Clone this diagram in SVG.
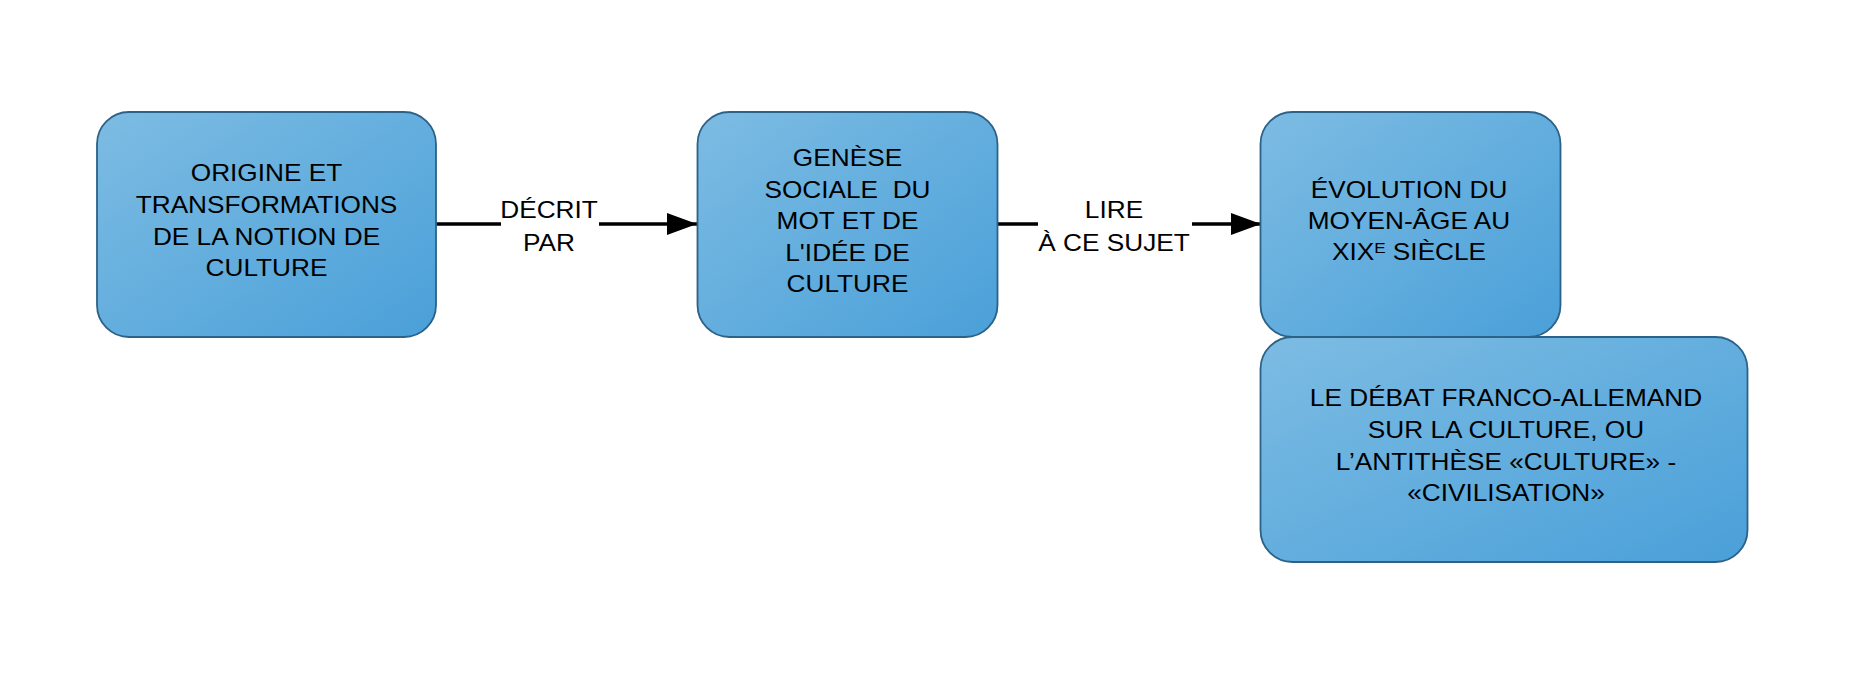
<svg xmlns="http://www.w3.org/2000/svg" width="1867" height="687" viewBox="0 0 1867 687">
<defs>
<linearGradient id="g" x1="0" y1="0" x2="1" y2="1">
<stop offset="0" stop-color="#7dbce3"/>
<stop offset="1" stop-color="#4aa0d9"/>
</linearGradient>
<marker id="arr" markerUnits="userSpaceOnUse" markerWidth="31" markerHeight="23" refX="30" refY="11" orient="auto">
<path d="M0,0 L30,11 L0,22 z" fill="#000"/>
</marker>
<style>
.box{fill:url(#g);stroke:#2c6188;stroke-width:1.8}
.t{font-family:"Liberation Sans",Arial,sans-serif;font-size:23px;fill:#000;text-anchor:middle}
.e{fill:none;stroke:#000;stroke-width:3.5}
</style>
</defs>
<rect width="1867" height="687" fill="#fff"/>
<g id="connectors">
<path class="e" d="M436 224 H501 M599 224 H697" marker-end="url(#arr)"/>
<text class="t" transform="translate(549 0) scale(1.14 1)"><tspan x="0" y="218">DÉCRIT</tspan><tspan x="0" y="251">PAR</tspan></text>
<path class="e" d="M998 224 H1038 M1192 224 H1261" marker-end="url(#arr)"/>
<text class="t" transform="translate(1114 0) scale(1.14 1)"><tspan x="0" y="218">LIRE</tspan><tspan x="0" y="251">À CE SUJET</tspan></text>
</g>
<g id="n1">
<rect class="box" x="97" y="112" width="339" height="225" rx="32" ry="32"/>
<text class="t" transform="translate(266.5 0) scale(1.14 1)"><tspan x="0" y="181.5">ORIGINE ET</tspan><tspan x="0" y="213">TRANSFORMATIONS</tspan><tspan x="0" y="245">DE LA NOTION DE</tspan><tspan x="0" y="276.5">CULTURE</tspan></text>
</g>
<g id="n2">
<rect class="box" x="697.5" y="112" width="300" height="225" rx="32" ry="32"/>
<text class="t" transform="translate(847.5 0) scale(1.14 1)" xml:space="preserve"><tspan x="0" y="166.5">GENÈSE</tspan><tspan x="0" y="198">SOCIALE  DU</tspan><tspan x="0" y="229.5">MOT ET DE</tspan><tspan x="0" y="261">L'IDÉE DE</tspan><tspan x="0" y="292.5">CULTURE</tspan></text>
</g>
<g id="n3">
<rect class="box" x="1260.5" y="112" width="300" height="225" rx="32" ry="32"/>
<text class="t" transform="translate(1409 0) scale(1.14 1)"><tspan x="0" y="198.5">ÉVOLUTION DU</tspan><tspan x="0" y="229.5">MOYEN-ÂGE AU</tspan><tspan x="0" y="260.5">XIX<tspan font-size="15" dy="-7">E</tspan><tspan dy="7"> SIÈCLE</tspan></tspan></text>
</g>
<g id="n4">
<rect class="box" x="1260.5" y="337" width="487" height="225" rx="32" ry="32"/>
<text class="t" transform="translate(1506 0) scale(1.14 1)"><tspan x="0" y="406.5">LE DÉBAT FRANCO-ALLEMAND</tspan><tspan x="0" y="438.5">SUR LA CULTURE, OU</tspan><tspan x="0" y="470">L’ANTITHÈSE «CULTURE» -</tspan><tspan x="0" y="501.5">«CIVILISATION»</tspan></text>
</g>
</svg>
